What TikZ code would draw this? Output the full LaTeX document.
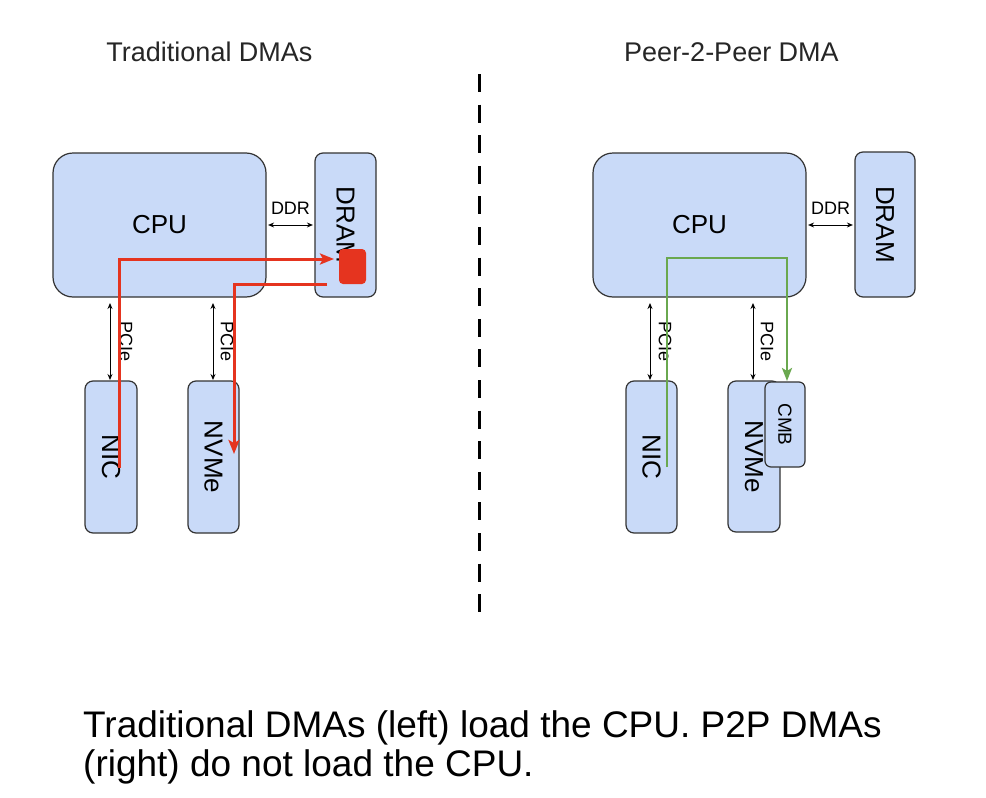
\documentclass[tikz,border=0pt]{standalone}
\usepackage{fontspec}
\setmainfont{Liberation Sans}
\usetikzlibrary{arrows.meta}
\definecolor{boxblue}{HTML}{C9DAF8}
\definecolor{boxline}{HTML}{333333}
\definecolor{flowred}{HTML}{E5341F}
\definecolor{flowgreen}{HTML}{6AA84F}
\begin{document}
\begin{tikzpicture}[x=1pt,y=-1pt,
  unit/.style={draw=boxline, fill=boxblue, line width=1.2pt, rounded corners=8pt, inner sep=0pt,
    font=\fontsize{26}{26}\selectfont},
  bigunit/.style={unit, rounded corners=20pt},
  buslbl/.style={font=\fontsize{18}{18}\selectfont, inner sep=0pt},
  bus/.style={draw=black, line width=0.9pt, {Stealth[length=6pt,width=5pt]}-{Stealth[length=6pt,width=5pt]}},
  redflow/.style={draw=flowred, line width=3pt, -{Stealth[length=14pt,width=11pt,inset=3pt]}},
  greenflow/.style={draw=flowgreen, line width=2.8pt, -{Stealth[length=13pt,width=10pt,inset=3pt]}},
  title/.style={font=\fontsize{27}{27}\selectfont, anchor=base, inner sep=0pt, text=black!85},
  caption/.style={font=\fontsize{37}{37}\selectfont, anchor=base west, inner sep=0pt}
]
\useasboundingbox (0,0) rectangle (986,798);
\fill[white] (0,0) rectangle (986,798);

% titles
\node[title] (tL) at (209.5,61) {Traditional DMAs};
\node[title] (tR) at (731.5,61) {Peer-2-Peer DMA};

% divider
\coordinate (dtop) at (479.5,74);
\coordinate (dbot) at (479.5,613);
\draw[line width=3.5pt, dash pattern=on 18pt off 12.6pt] (dtop) -- (dbot);

% ---------- left ----------
\node[bigunit, minimum width=213pt, minimum height=144pt] (cpuL) at (159.5,225) {CPU};
\node[unit, minimum width=61pt, minimum height=144pt] (dramL) at (345.5,225) {\rotatebox{-90}{DRAM}};
\node[unit, minimum width=52pt, minimum height=152pt] (nicL) at (111,457) {\rotatebox{-90}{NIC}};
\node[unit, minimum width=51pt, minimum height=152pt] (nvmeL) at (213.5,457) {\rotatebox{-90}{NVMe}};

\draw[bus, shorten <=1.5pt, shorten >=1.5pt] (cpuL.east) -- (dramL.west)
  node[midway, yshift=16.5pt, buslbl] (ddrL) {DDR};
\coordinate (b1t) at (110,303); \coordinate (b1b) at (110,380);
\coordinate (b2t) at (213,303); \coordinate (b2b) at (213,380);
\draw[bus] (b1t) -- (b1b) node[midway, xshift=16pt, buslbl] (pL1) {\rotatebox{-90}{PCIe}};
\draw[bus] (b2t) -- (b2b) node[midway, xshift=14pt, buslbl] (pL2) {\rotatebox{-90}{PCIe}};

\node[fill=flowred, rounded corners=4pt, minimum width=27pt, minimum height=35pt, inner sep=0pt] (buf) at (352.5,266.5) {};

\coordinate (r0) at (119,468); \coordinate (r1) at (119,259); \coordinate (r2) at (334,259);
\draw[redflow] (r0) -- (r1) -- (r2);
\coordinate (s0) at (327,284); \coordinate (s1) at (234,284); \coordinate (s2) at (234,454);
\draw[redflow] (s0) -- (s1) -- (s2);

% ---------- right ----------
\node[bigunit, minimum width=213pt, minimum height=144pt] (cpuR) at (699.5,225) {CPU};
\node[unit, minimum width=60pt, minimum height=145pt] (dramR) at (885,224.5) {\rotatebox{-90}{DRAM}};
\node[unit, minimum width=51pt, minimum height=152pt] (nicR) at (651.5,457) {\rotatebox{-90}{NIC}};
\node[unit, minimum width=52pt, minimum height=151pt] (nvmeR) at (754,456.5) {\rotatebox{-90}{NVMe}};
\node[unit, rounded corners=6pt, minimum width=40pt, minimum height=85pt, font=\fontsize{19}{19}\selectfont] (cmb) at (785,424.5) {\rotatebox{-90}{CMB}};

\draw[bus, shorten <=1.5pt, shorten >=1.5pt] (cpuR.east) -- (dramR.west |- cpuR.east)
  node[midway, yshift=16.5pt, buslbl] (ddrR) {DDR};
\coordinate (b3t) at (650,303); \coordinate (b3b) at (650,380);
\coordinate (b4t) at (753,303); \coordinate (b4b) at (753,380);
\draw[bus] (b3t) -- (b3b) node[midway, xshift=15pt, buslbl] (pR1) {\rotatebox{-90}{PCIe}};
\draw[bus] (b4t) -- (b4b) node[midway, xshift=14pt, buslbl] (pR2) {\rotatebox{-90}{PCIe}};

\coordinate (g0) at (667,467); \coordinate (g1) at (667,258);
\coordinate (g2) at (787,258); \coordinate (g3) at (787,381);
\draw[greenflow] (g0) -- (g1) -- (g2) -- (g3);

% caption
\node[caption] (cap1) at (83,737) {Traditional DMAs (left) load the CPU. P2P DMAs};
\node[caption] (cap2) at (83,776) {(right) do not load the CPU.};
\end{tikzpicture}
\end{document}
